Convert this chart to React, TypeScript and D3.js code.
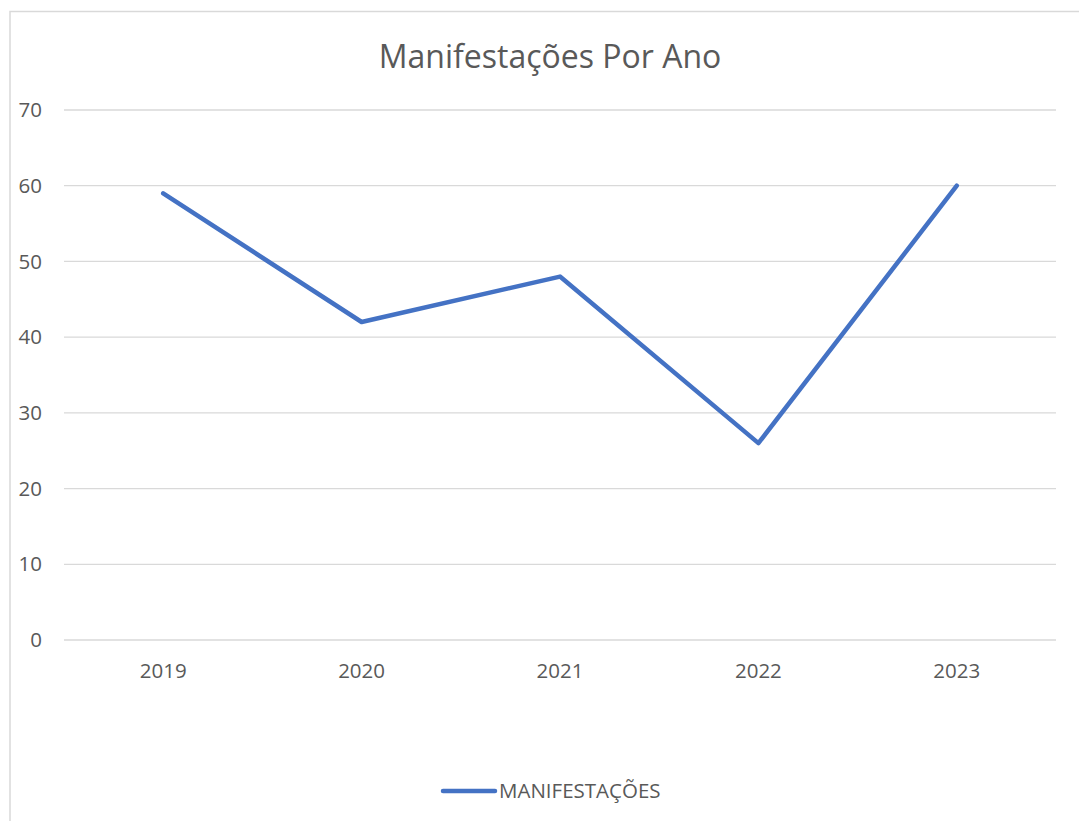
import React from "react";
import * as d3 from "d3";

const years = ["2019", "2020", "2021", "2022", "2023"];
const manifestacoes = [59, 42, 48, 26, 60];
const yTicks = [0, 10, 20, 30, 40, 50, 60, 70];

const W = 1079;
const H = 821;

const App = () => {
  const x = d3.scaleBand().domain(years).range([64, 1056]);
  const y = d3.scaleLinear().domain([0, 70]).range([640, 110]);

  const line = d3
    .line<number>()
    .x((d, i) => (x(years[i]) as number) + x.bandwidth() / 2)
    .y((d) => y(d));

  const font = "'Open Sans', sans-serif";

  return (
    <div style={{ position: "absolute", left: 0, top: 0 }}>
      <svg width={W} height={H} style={{ display: "block", fontFamily: font }}>
        <rect x={0} y={0} width={W} height={H} fill="#fff" />
        <rect
          x={10}
          y={11.5}
          width={W + 10}
          height={H + 10}
          fill="#fff"
          stroke="#d9d9d9"
          strokeWidth={1.5}
        />
        <text
          x={550}
          y={57}
          dy="0.35em"
          textAnchor="middle"
          fontSize={32}
          fill="#595959"
        >
          Manifestações Por Ano
        </text>
        {yTicks.map((t) => (
          <g key={t}>
            <line
              x1={64}
              x2={1056}
              y1={y(t)}
              y2={y(t)}
              stroke="#d9d9d9"
              strokeWidth={1.3}
            />
            <text
              x={42}
              y={y(t)}
              dy="0.35em"
              textAnchor="end"
              fontSize={20.5}
              fill="#595959"
            >
              {t}
            </text>
          </g>
        ))}
        {years.map((yr) => (
          <text
            key={yr}
            x={(x(yr) as number) + x.bandwidth() / 2}
            y={671}
            dy="0.35em"
            textAnchor="middle"
            fontSize={20.5}
            fill="#595959"
          >
            {yr}
          </text>
        ))}
        <path
          d={line(manifestacoes) || ""}
          fill="none"
          stroke="#4472C4"
          strokeWidth={4.5}
          strokeLinejoin="round"
          strokeLinecap="round"
        />
        <line
          x1={443}
          x2={495}
          y1={791}
          y2={791}
          stroke="#4472C4"
          strokeWidth={4.5}
          strokeLinecap="round"
        />
        <text x={499} y={791} dy="0.35em" fontSize={20.5} fill="#595959">
          MANIFESTAÇÕES
        </text>
      </svg>
    </div>
  );
};

export default App;
